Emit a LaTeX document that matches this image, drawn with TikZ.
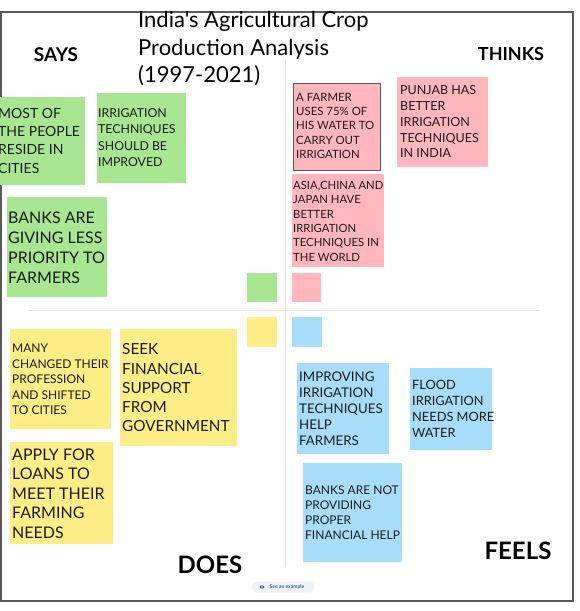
\documentclass[tikz,border=0pt]{standalone}
\usepackage{fontspec}
\setmainfont{Lato}
\newfontfamily\titlefont{Lato}
\definecolor{sgreen}{HTML}{A8E692}
\definecolor{spink}{HTML}{FFB6BC}
\definecolor{syellow}{HTML}{FFEE88}
\definecolor{sblue}{HTML}{A8DDF9}
\definecolor{ink}{HTML}{1C1C1C}
\definecolor{framec}{HTML}{5A5A5A}
\definecolor{divc}{HTML}{E4E4E4}
\definecolor{pillc}{HTML}{EEF2F8}
\definecolor{pilltext}{HTML}{3A6090}
\tikzset{
  sticky/.style={draw=none, inner sep=0, anchor=north west},
  stxt/.style={anchor=north west, inner sep=0, align=left, text=ink},
  lbl/.style={inner sep=0, text=black, font=\bfseries},
  divider/.style={draw=divc, line width=1}
}
\newcommand{\fs}[2]{\fontsize{#1}{#2}\selectfont}
\begin{document}
\begin{tikzpicture}[x=1pt,y=-1pt]
\useasboundingbox (0,0) rectangle (580,611);
\fill[white] (0,0) rectangle (580,611);
% dividers
\draw[divider] (285,60) -- (285,567);
\draw[divider] (28,310) -- (540,310);
% frame
\draw[framec, line width=1.6] (1,12) rectangle (573,601);
% title
\node[stxt, text=black, font=\titlefont\fs{22}{27.5}] (title) at (138,11.5) {India's Agricultural Crop\\Production Analysis\\(1997-2021)};
% quadrant labels
\node[lbl, font=\bfseries\fs{19}{19}] (says) at (56,55) {SAYS};
\node[lbl, font=\bfseries\fs{18}{18}] (thinks) at (511,54) {THINKS};
\node[lbl, font=\bfseries\fs{24}{24}] (does) at (210,565) {DOES};
\node[lbl, font=\bfseries\fs{24}{24}] (feels) at (518,551) {FEELS};
% green
\node[sticky, fill=sgreen, minimum width=85, minimum height=88] (g1) at (0,97) {};
\node[stxt, font=\fs{14}{18.3}] (g1t) at (-2,108) {MOST OF\\THE PEOPLE\\RESIDE IN\\CITIES};
\node[sticky, fill=sgreen, minimum width=89, minimum height=90] (g2) at (97,93) {};
\node[stxt, font=\fs{12.3}{16.3}] (g2t) at (98,108.5) {IRRIGATION\\TECHNIQUES\\SHOULD BE\\IMPROVED};
\node[sticky, fill=sgreen, minimum width=100, minimum height=100] (g3) at (7,197) {};
\node[stxt, font=\fs{16}{20}] (g3t) at (8,211.5) {BANKS ARE\\GIVING LESS\\PRIORITY TO\\FARMERS};
\node[sticky, fill=sgreen, minimum width=30, minimum height=29] (g4) at (247,273) {};
% pink
\node[sticky, fill=spink, draw=framec, line width=1.2, minimum width=87, minimum height=87] (p1) at (293,83) {};
\node[stxt, font=\fs{11.4}{14.3}] (p1t) at (296,93) {A FARMER\\USES 75\% OF\\HIS WATER TO\\CARRY OUT\\IRRIGATION};
\node[sticky, fill=spink, minimum width=91, minimum height=90] (p2) at (397,77) {};
\node[stxt, font=\fs{12.5}{15.8}] (p2t) at (400,85.5) {PUNJAB HAS\\BETTER\\IRRIGATION\\TECHNIQUES\\IN INDIA};
\node[sticky, fill=spink, minimum width=92, minimum height=93] (p3) at (292,174) {};
\node[stxt, font=\fs{11.3}{14.4}] (p3t) at (293,181) {ASIA,CHINA AND\\JAPAN HAVE\\BETTER\\IRRIGATION\\TECHNIQUES IN\\THE WORLD};
\node[sticky, fill=spink, minimum width=29, minimum height=29] (p4) at (292,273) {};
% yellow
\node[sticky, fill=syellow, minimum width=30, minimum height=30] (y4) at (247,317) {};
\node[sticky, fill=syellow, minimum width=101, minimum height=100] (y1) at (10,329) {};
\node[stxt, font=\fs{12}{15.5}] (y1t) at (12,343.7) {MANY\\CHANGED THEIR\\PROFESSION\\AND SHIFTED\\TO CITIES};
\node[sticky, fill=syellow, minimum width=117, minimum height=117] (y2) at (120,329) {};
\node[stxt, font=\fs{15.3}{19.3}] (y2t) at (122,343.5) {SEEK\\FINANCIAL\\SUPPORT\\FROM\\GOVERNMENT};
\node[sticky, fill=syellow, minimum width=103, minimum height=102] (y3) at (10,442) {};
\node[stxt, font=\fs{16}{19.6}] (y3t) at (12,448.3) {APPLY FOR\\LOANS TO\\MEET THEIR\\FARMING\\NEEDS};
% blue
\node[sticky, fill=sblue, minimum width=30, minimum height=30] (b4) at (292,317) {};
\node[sticky, fill=sblue, minimum width=92, minimum height=91] (b1) at (297,363) {};
\node[stxt, font=\fs{13.3}{16}] (b1t) at (299,372) {IMPROVING\\IRRIGATION\\TECHNIQUES\\HELP\\FARMERS};
\node[sticky, fill=sblue, minimum width=82, minimum height=82] (b2) at (410,368) {};
\node[stxt, font=\fs{12.8}{16}] (b2t) at (412,380.3) {FLOOD\\IRRIGATION\\NEEDS MORE\\WATER};
\node[sticky, fill=sblue, minimum width=99, minimum height=99] (b3) at (303,463) {};
\node[stxt, font=\fs{12}{15}] (b3t) at (305,485.5) {BANKS ARE NOT\\PROVIDING\\PROPER\\FINANCIAL HELP};
% see an example pill
\node[fill=pillc, rounded corners=4, minimum width=62, minimum height=11, inner sep=0] (pill) at (283,587) {};
\node[inner sep=0, text=pilltext, font=\bfseries\fs{5}{5}] (pillt) at (287,587) {See an example};
\fill[pilltext] (262,587) ellipse (2.4 and 1.6);
\fill[pillc] (262,587) circle (0.8);
\end{tikzpicture}
\end{document}
